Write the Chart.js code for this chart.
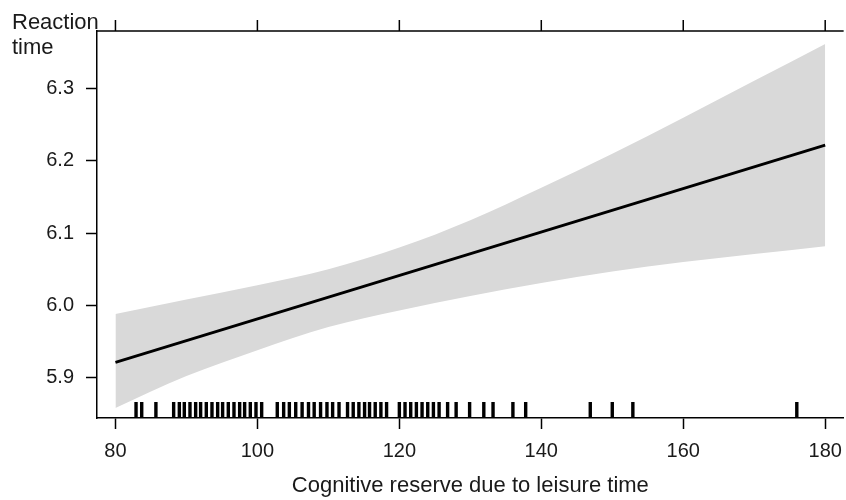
<!DOCTYPE html>
<html>
<head>
<meta charset="utf-8">
<script src="https://cdn.jsdelivr.net/npm/chart.js@4.4.1/dist/chart.umd.min.js"></script>
<style>
  html, body { margin: 0; padding: 0; background: #fff; overflow: hidden; }
  #wrap { width: 852px; height: 500px; }
</style>
</head>
<body>
<div id="wrap"><canvas id="myChart" width="852" height="500"></canvas></div>
<script>
// axis ticks
const xTicks = [80, 100, 120, 140, 160, 180];
const yTicks = [5.9, 6.0, 6.1, 6.2, 6.3];

// fitted line
const fitX = [80, 180];
const fitY = [5.921, 6.222];

// confidence band
const bandX =     [80,    90,    100,   110,   120,   130,   140,   150,   160,   170,   180];
const bandUpper = [5.988, 6.008, 6.028, 6.050, 6.080, 6.118, 6.163, 6.210, 6.260, 6.311, 6.362];
const bandLower = [5.858, 5.902, 5.938, 5.970, 5.993, 6.013, 6.031, 6.047, 6.060, 6.071, 6.082];

// rug of observed x values
const rugX = [
  82.9, 83.7, 85.7,
  88.2, 89.0, 89.7, 90.5, 91.3, 92.0, 92.8, 93.6, 94.4, 95.1, 95.9,
  96.7, 97.5, 98.2, 99.0, 99.8, 100.6,
  102.8, 103.7, 104.5, 105.4, 106.3, 107.2, 108.0, 108.9, 109.8, 110.6, 111.5,
  112.7, 113.5, 114.3, 115.1, 115.8, 116.6, 117.4, 118.2,
  120.0, 120.8, 121.6, 122.4, 123.2, 124.0, 124.8, 125.6,
  126.8, 128.0, 129.9, 131.9, 133.2, 136.0, 137.8, 146.9, 150.0, 152.9, 176.0
];

const FONT = "'Liberation Sans', Arial, sans-serif";
const INK = '#1a1a1a';

function pts(xs, ys) {
  return xs.map((x, i) => ({ x: x, y: ys[i] }));
}

// top border, top ticks, rug and the y label
const framePlugin = {
  id: 'frame',
  afterDatasetsDraw(chart) {
    const ctx = chart.ctx;
    const area = chart.chartArea;
    const xs = chart.scales.x;
    ctx.save();
    ctx.fillStyle = '#000';
    rugX.forEach(v => {
      const px = xs.getPixelForValue(v);
      ctx.fillRect(px - 1.7, area.bottom - 16, 3.4, 16);
    });
    ctx.restore();
  },
  afterDraw(chart) {
    const ctx = chart.ctx;
    const area = chart.chartArea;
    const xs = chart.scales.x;
    ctx.save();
    ctx.strokeStyle = '#000';
    ctx.lineWidth = 1.5;
    ctx.beginPath();
    ctx.moveTo(area.left, area.top);
    ctx.lineTo(area.right, area.top);
    xTicks.forEach(v => {
      const px = xs.getPixelForValue(v);
      ctx.moveTo(px, area.top);
      ctx.lineTo(px, area.top - 11);
    });
    ctx.stroke();
    ctx.fillStyle = INK;
    ctx.font = '22px ' + FONT;
    ctx.textAlign = 'left';
    ctx.textBaseline = 'alphabetic';
    ctx.fillText('Reaction', 12, 29);
    ctx.fillText('time', 12, 54);
    ctx.restore();
  }
};

const ctx = document.getElementById('myChart').getContext('2d');
const chart = new Chart(ctx, {
  type: 'line',
  data: {
    datasets: [
      {
        label: 'fit',
        data: pts(fitX, fitY),
        borderColor: '#000',
        borderWidth: 2.8,
        pointRadius: 0,
        fill: false,
        order: 0
      },
      {
        label: 'upper',
        data: pts(bandX, bandUpper),
        borderWidth: 0,
        pointRadius: 0,
        backgroundColor: '#d9d9d9',
        fill: '+1',
        cubicInterpolationMode: 'monotone',
        order: 1
      },
      {
        label: 'lower',
        data: pts(bandX, bandLower),
        borderWidth: 0,
        pointRadius: 0,
        fill: false,
        cubicInterpolationMode: 'monotone',
        order: 2
      }
    ]
  },
  options: {
    responsive: false,
    animation: false,
    layout: { padding: { top: 31, left: 0, right: 5, bottom: 0 } },
    plugins: {
      legend: { display: false },
      tooltip: { enabled: false }
    },
    scales: {
      x: {
        type: 'linear',
        position: 'bottom',
        min: 77.4,
        max: 182.6,
        afterBuildTicks: s => { s.ticks = xTicks.map(v => ({ value: v })); },
        afterFit: s => { s.height = 82; },
        grid: { drawOnChartArea: false, tickLength: 11, tickWidth: 1.5, color: '#000' },
        border: { display: true, color: '#000', width: 1.5 },
        ticks: { color: INK, font: { family: FONT, size: 20 }, padding: 10 },
        title: {
          display: true,
          text: 'Cognitive reserve due to leisure time',
          color: INK,
          font: { family: FONT, size: 22 },
          padding: { top: 0, bottom: 1 }
        }
      },
      y: {
        type: 'linear',
        min: 5.844,
        max: 6.38,
        afterBuildTicks: s => { s.ticks = yTicks.map(v => ({ value: v })); },
        afterFit: s => { s.width = 97; },
        grid: { drawOnChartArea: false, tickLength: 11, tickWidth: 1.5, color: '#000' },
        border: { display: true, color: '#000', width: 1.5 },
        ticks: {
          color: INK,
          font: { family: FONT, size: 20 },
          padding: 12,
          callback: v => v.toFixed(1)
        }
      }
    }
  },
  plugins: [framePlugin]
});
</script>
</body>
</html>
